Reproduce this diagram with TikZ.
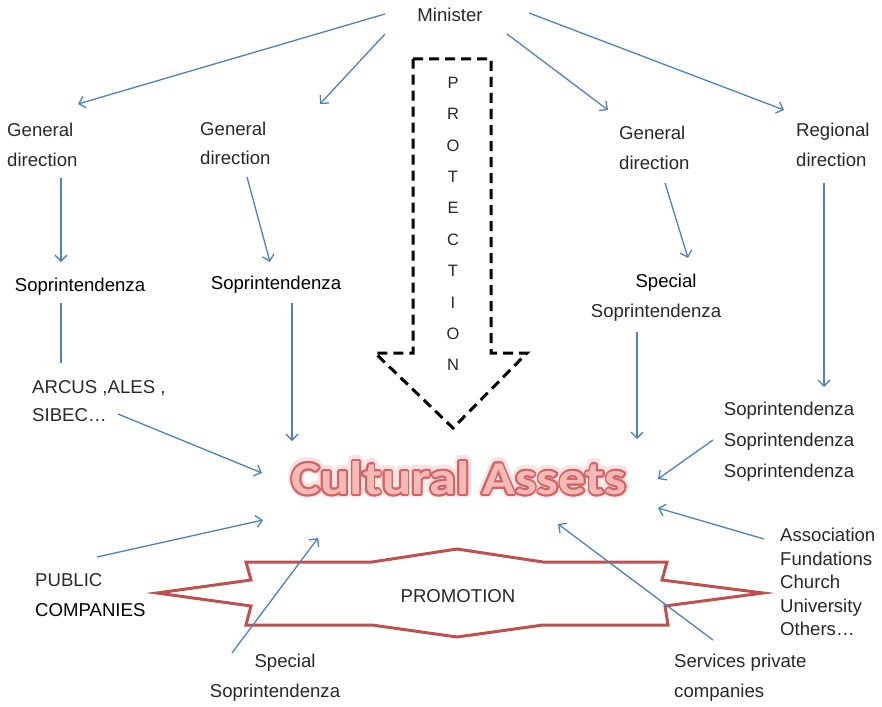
\documentclass[tikz,border=0pt]{standalone}
\usepackage{fontspec}
\setmainfont{Liberation Sans}
\newfontfamily\titlefont[FakeStretch=1.16]{Carlito}
\usepackage{contour}
\usetikzlibrary{arrows.meta}

\definecolor{linkblue}{RGB}{79,129,189}
\definecolor{promored}{RGB}{192,80,77}
\definecolor{txt}{RGB}{40,40,40}
\definecolor{caedge}{RGB}{212,98,98}
\definecolor{cafill}{RGB}{244,186,184}
\definecolor{caglow}{RGB}{249,226,226}

\begin{document}
\begin{tikzpicture}[x=1pt,y=-1pt,
  lbl/.style={inner sep=0pt, text=txt, font=\fontsize{18.6}{30}\selectfont},
  lblL/.style={lbl, anchor=west, align=left},
  lblC/.style={lbl, align=center},
  strong/.style={text=black},
  link/.style={draw=linkblue, line width=1.3pt, -{Straight Barb[length=6pt,width=12pt]}},
  plainlink/.style={draw=linkblue, line width=1.8pt},
  protarrow/.style={draw=black, line width=3pt, dash pattern=on 10pt off 6pt, line join=miter},
  promostar/.style={draw=promored, line width=3pt, line join=miter}]

\useasboundingbox (0,0) rectangle (882,706);

% ---- text nodes ----
\node[lbl] (min) at (450,15) {Minister};
\node[lblL] (gd1) at (7,145) {General\\direction};
\node[lblL, font=\fontsize{18.6}{29}\selectfont] (gd2) at (200,143) {General\\direction};
\node[lblL] (gd3) at (619,148) {General\\direction};
\node[lblL] (rd) at (796,145) {Regional\\direction};

\node[lbl, strong] (sop1) at (80,287) {Soprintendenza};
\node[lbl, strong] (sop2) at (276,285) {Soprintendenza};
\node[lbl, strong] (ssa) at (666,283) {Special};
\node[lbl] (ssb) at (656,313) {Soprintendenza};

\node[lblL, font=\fontsize{18.6}{28}\selectfont] (arcus) at (32,401) {ARCUS ,ALES ,\\SIBEC…};
\node[lblC, font=\fontsize{18.6}{31}\selectfont] (sop3) at (789,442)
  {Soprintendenza\\Soprintendenza\\Soprintendenza};

\node[lblL] (pub) at (35,595) {PUBLIC\\\textcolor{black}{COMPANIES}};
\node[lbl] (spa) at (285,663) {Special};
\node[lbl] (spb) at (275,693) {Soprintendenza};
\node[lblL, font=\fontsize{18.6}{23.5}\selectfont] (assoc) at (780,582)
  {Association\\Fundations\\Church\\University\\Others…};
\node[lblL] (serv) at (674,678) {Services private\\companies};

% ---- protection arrow ----
\draw[protarrow] (413,59) -- (491,59) -- (491,353) -- (527,353) -- (453,428)
  -- (375,353) -- (413,353) -- cycle;
\node[lblC, font=\fontsize{16.5}{31.4}\selectfont] (prot) at (453,224)
  {P\\R\\O\\T\\E\\C\\T\\I\\O\\N};

% ---- promotion star ----
\draw[promostar] (246,562) -- (372,562) -- (457,549) -- (543,562) -- (667,562)
  -- (662,580) -- (763,593) -- (665,606) -- (668,625) -- (543,625) -- (457,637)
  -- (372,625) -- (246,625) -- (251,606) -- (157,593) -- (251,580) -- cycle;
\node[lbl] (prom) at (458,596) {PROMOTION};

% ---- central title: soft halo, then outlined letters ----
\node[inner sep=0pt, font=\titlefont\bfseries\fontsize{47}{50}\selectfont] (caglow) at (459,479)
  {\contourlength{4.5pt}\contour{caglow}{\textcolor{caglow}{Cultural Assets}}};
\node[inner sep=0pt, font=\titlefont\bfseries\fontsize{47}{50}\selectfont] (ca) at (459,479)
  {\contourlength{1.7pt}\contour{caedge}{\textcolor{cafill}{Cultural Assets}}};

% ---- connectors ----
\draw[link] ([xshift=-65pt,yshift=1pt]min.center) -- ([xshift=71pt,yshift=41pt]gd1.west);
\draw[link] ([xshift=-65pt,yshift=-19pt]min.center) -- ([xshift=120pt,yshift=39pt]gd2.west);
\draw[link] ([xshift=57pt,yshift=-19pt]min.center) -- ([xshift=-11pt,yshift=38pt]gd3.west);
\draw[link] ([xshift=79pt,yshift=2pt]min.center) -- ([xshift=-12pt,yshift=35pt]rd.west);

\draw[link] ([xshift=54pt,yshift=-33pt]gd1.west) -- ([xshift=-19pt,yshift=25pt]sop1.center);
\draw[link] ([xshift=47pt,yshift=-34pt]gd2.west) -- ([xshift=-6pt,yshift=23pt]sop2.center);
\draw[link] ([xshift=46pt,yshift=-35pt]gd3.west) -- ([xshift=22pt,yshift=25pt]ssa.center);
\draw[link] ([xshift=28pt,yshift=-38pt]rd.west) -- ([xshift=35pt,yshift=55pt]sop3.center);

\draw[plainlink] ([xshift=-19pt,yshift=-16pt]sop1.center) -- ([xshift=29pt,yshift=38pt]arcus.west);

\draw[link] ([xshift=86pt,yshift=-13pt]arcus.west) -- ([xshift=-197pt,yshift=6pt]ca.center);
\draw[link] ([xshift=16pt,yshift=-18pt]sop2.center) -- ([xshift=-167pt,yshift=38pt]ca.center);
\draw[link] ([xshift=-19pt,yshift=-19pt]ssb.center) -- ([xshift=178pt,yshift=40pt]ca.center);
\draw[link] ([xshift=-76pt,yshift=2pt]sop3.center) -- ([xshift=199pt,yshift=0pt]ca.center);

\draw[link] ([xshift=62pt,yshift=38pt]pub.west) -- ([xshift=-196pt,yshift=-41pt]ca.center);
\draw[link] ([xshift=-53pt,yshift=10pt]spa.center) -- ([xshift=-141pt,yshift=-59pt]ca.center);
\draw[link] ([xshift=39pt,yshift=38pt]serv.west) -- ([xshift=99pt,yshift=-45pt]ca.center);
\draw[link] ([xshift=-16pt,yshift=43pt]assoc.west) -- ([xshift=199pt,yshift=-29pt]ca.center);
\end{tikzpicture}
\end{document}
